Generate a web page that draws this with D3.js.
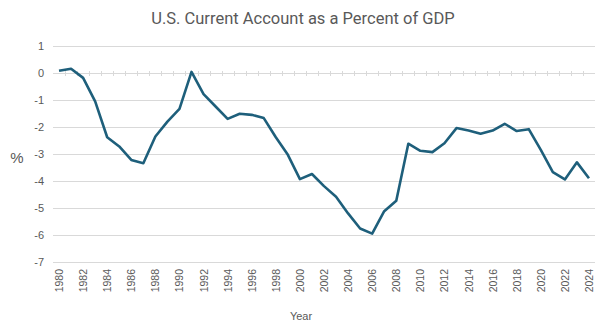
<!DOCTYPE html>
<html>
<head>
<meta charset="utf-8">
<script src="https://cdn.jsdelivr.net/npm/d3@7"></script>
<style>
  body { margin: 0; background: #fff; }
  text { font-family: "Liberation Sans", Arial, sans-serif; fill: #595959; }
  .title { font-family: Roboto, "Liberation Sans", sans-serif; }
</style>
</head>
<body>
<div id="chart"></div>
<script>
const years = d3.range(1980, 2025);
const balance = [
  0.08, 0.16, -0.18, -1.05, -2.38, -2.72, -3.22, -3.34, -2.35, -1.8,
  -1.33, 0.04, -0.78, -1.24, -1.7, -1.51, -1.55, -1.67, -2.38, -3.03,
  -3.93, -3.74, -4.19, -4.58, -5.2, -5.76, -5.95, -5.12, -4.73, -2.62,
  -2.88, -2.93, -2.6, -2.04, -2.13, -2.25, -2.13, -1.88, -2.15, -2.08,
  -2.85, -3.67, -3.94, -3.31, -3.9
];
const yTicks = [1, 0, -1, -2, -3, -4, -5, -6, -7];
const xTickYears = years.filter((d) => d % 2 === 0);

const width = 606;
const height = 327;
const margin = { left: 53, right: 11, top: 46, bottom: 65 };
const innerW = width - margin.left - margin.right;
const innerH = height - margin.top - margin.bottom;

const svg = d3.select('#chart').append('svg')
  .attr('width', width)
  .attr('height', height);

const x = d3.scaleBand()
  .domain(years)
  .range([0, innerW]);

const y = d3.scaleLinear()
  .domain([-7, 1])
  .range([innerH, 0]);

const g = svg.append('g')
  .attr('transform', `translate(${margin.left}, ${margin.top})`);

// horizontal gridlines
g.selectAll('.grid')
  .data(yTicks)
  .enter()
  .append('line')
  .attr('x1', 0)
  .attr('x2', innerW)
  .attr('y1', (d) => y(d) + 0.5)
  .attr('y2', (d) => y(d) + 0.5)
  .attr('stroke', '#d9d9d9')
  .attr('stroke-width', 1);

// small ticks on the zero line between categories
g.selectAll('.zero-tick')
  .data(years.slice(1))
  .enter()
  .append('line')
  .attr('x1', (d) => Math.round(x(d)) + 0.5)
  .attr('x2', (d) => Math.round(x(d)) + 0.5)
  .attr('y1', y(0) - 2)
  .attr('y2', y(0) + 3)
  .attr('stroke', '#d9d9d9');

// y tick labels
g.selectAll('.ylab')
  .data(yTicks)
  .enter()
  .append('text')
  .attr('x', -9)
  .attr('y', (d) => y(d) + 4)
  .attr('text-anchor', 'end')
  .style('font-size', '11px')
  .text((d) => d);

// x tick labels, rotated
g.selectAll('.xlab')
  .data(xTickYears)
  .enter()
  .append('text')
  .attr('transform', (d) => `translate(${x(d) + x.bandwidth() / 2 + 4}, ${innerH + 7}) rotate(-90)`)
  .attr('text-anchor', 'end')
  .style('font-size', '10.5px')
  .text((d) => d);

// current account line
const line = d3.line()
  .x((d, i) => x(years[i]) + x.bandwidth() / 2)
  .y((d) => y(d));

g.append('path')
  .datum(balance)
  .attr('fill', 'none')
  .attr('stroke', '#1e5f7b')
  .attr('stroke-width', 2.6)
  .attr('stroke-linejoin', 'round')
  .attr('d', line);

svg.append('text')
  .attr('class', 'title')
  .attr('x', 303)
  .attr('y', 24)
  .attr('text-anchor', 'middle')
  .style('font-size', '16.5px')
  .text('U.S. Current Account as a Percent of GDP');

svg.append('text')
  .attr('x', 17)
  .attr('y', 163)
  .attr('text-anchor', 'middle')
  .style('font-size', '15px')
  .text('%');

svg.append('text')
  .attr('x', 301)
  .attr('y', 320)
  .attr('text-anchor', 'middle')
  .style('font-size', '11px')
  .text('Year');
</script>
</body>
</html>
